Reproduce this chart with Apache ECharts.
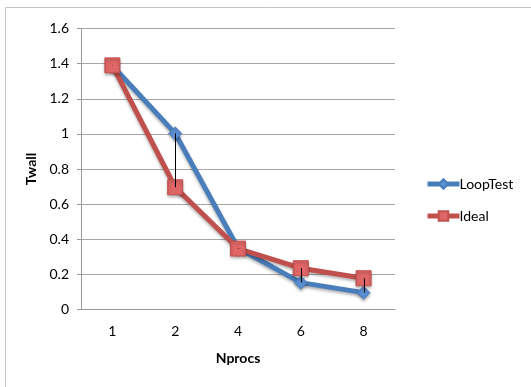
<!DOCTYPE html>
<html><head><meta charset="utf-8">
<script src="https://cdn.jsdelivr.net/npm/echarts@6/dist/echarts.min.js"></script>
<style>html,body{margin:0;padding:0;background:#fff}#c{width:531px;height:387px}</style>
</head><body><div id="c"></div>
<script>
var categories = ['1', '2', '4', '6', '8'];
var loopTest = [1.388, 1.003, 0.35, 0.153, 0.096];
var ideal = [1.39, 0.696, 0.347, 0.235, 0.178];
var yTicks = [0, 0.2, 0.4, 0.6, 0.8, 1, 1.2, 1.4, 1.6];

var font = 'Lato, "Open Sans", sans-serif';
var chart = echarts.init(document.getElementById('c'));
var hl = categories.map(function (c, i) { return [i, loopTest[i], ideal[i]]; });
chart.setOption({
  animation: false,
  graphic: [{type: 'rect', shape: {x: 5.5, y: 7.5, width: 600, height: 500}, style: {fill: 'none', stroke: '#c4c4c4', lineWidth: 1}, z: -10}],
  grid: {left: 81, top: 28.5, width: 314, height: 281},
  legend: {
    orient: 'vertical', left: 420, top: 172, itemWidth: 32, itemHeight: 12, itemGap: 18,
    lineStyle: {width: 5},
    textStyle: {fontFamily: font, fontSize: 14, color: '#000', padding: [0, 0, 0, -5]},
    data: ['LoopTest', 'Ideal']
  },
  xAxis: {
    type: 'category', data: categories, boundaryGap: true,
    name: 'Nprocs', nameLocation: 'middle', nameGap: 42,
    nameTextStyle: {fontFamily: font, fontSize: 14, fontWeight: 'bold', color: '#000'},
    axisLine: {lineStyle: {color: '#999'}},
    axisTick: {show: false},
    axisLabel: {fontFamily: font, fontSize: 14, color: '#000', margin: 15}
  },
  yAxis: {
    type: 'value', min: 0, max: 1.6, interval: 0.2,
    name: 'Twall', nameLocation: 'middle', nameGap: 40, nameRotate: 90,
    nameTextStyle: {fontFamily: font, fontSize: 14, fontWeight: 'bold', color: '#000'},
    axisLine: {show: true, lineStyle: {color: '#999'}},
    axisTick: {show: true, length: 4, lineStyle: {color: '#999'}},
    splitLine: {lineStyle: {color: '#a6a6a6'}},
    axisLabel: {fontFamily: font, fontSize: 14, color: '#000', margin: 12,
      formatter: function (v) { return yTicks.indexOf(+v.toFixed(1)) >= 0 ? String(+v.toFixed(1)) : ''; }}
  },
  series: [
    {
      name: 'LoopTest', type: 'line', data: loopTest, symbol: 'diamond', symbolSize: 13,
      lineStyle: {color: '#4a7ebb', width: 5, shadowBlur: 3, shadowColor: 'rgba(0,0,0,0.3)', shadowOffsetY: 2},
      itemStyle: {color: '#5b8fd4', borderColor: '#4a7ebb', borderWidth: 1, shadowBlur: 3, shadowColor: 'rgba(0,0,0,0.3)', shadowOffsetY: 2},
      z: 2
    },
    {
      name: 'Ideal', type: 'line', data: ideal, symbol: 'rect', symbolSize: 15,
      lineStyle: {color: '#c0504d', width: 5, shadowBlur: 3, shadowColor: 'rgba(0,0,0,0.3)', shadowOffsetY: 2},
      itemStyle: {color: '#e06666', borderColor: '#c0504d', borderWidth: 1, shadowBlur: 3, shadowColor: 'rgba(0,0,0,0.3)', shadowOffsetY: 2},
      z: 3
    },
    {
      type: 'custom', data: hl, z: 10, silent: true,
      renderItem: function (params, api) {
        var a = api.coord([api.value(0), api.value(1)]);
        var b = api.coord([api.value(0), api.value(2)]);
        return {type: 'line', shape: {x1: Math.round(a[0]) + 0.5, y1: a[1], x2: Math.round(a[0]) + 0.5, y2: b[1]}, style: {stroke: '#000', lineWidth: 1}};
      },
      encode: {x: 0, y: [1, 2]}
    }
  ]
});
</script></body></html>
